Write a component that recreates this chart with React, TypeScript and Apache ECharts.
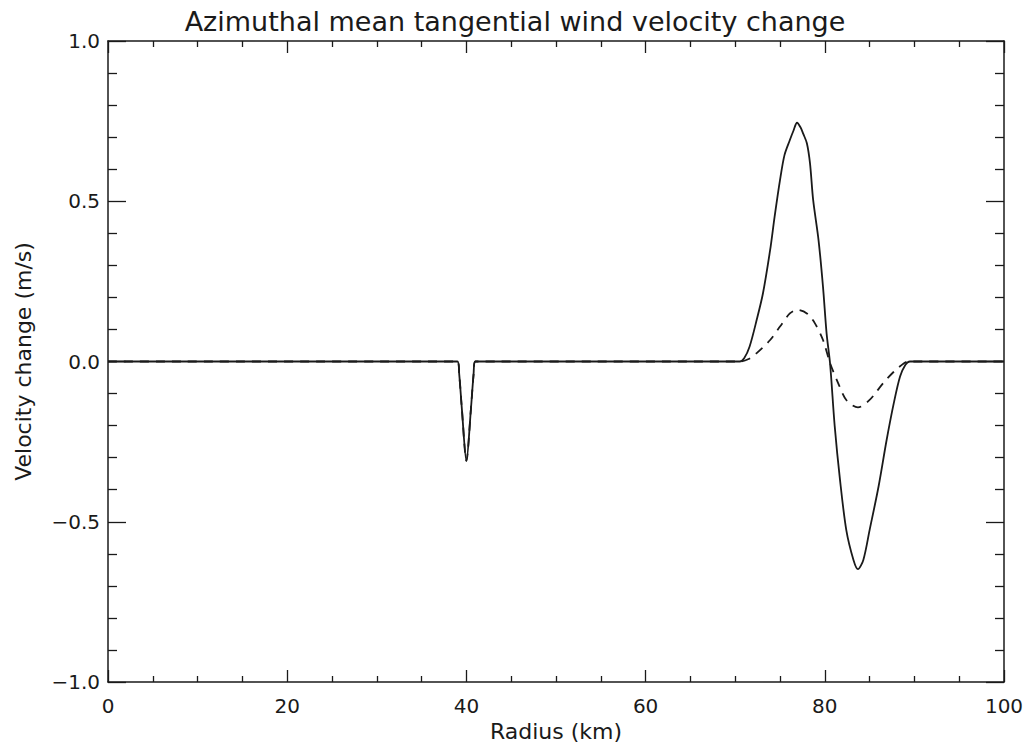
import React, { useEffect, useRef } from "react";
import * as echarts from "echarts";

const titleText = "Azimuthal mean tangential wind velocity change";
const xName = "Radius (km)";
const yName = "Velocity change (m/s)";

const solidRadius = [0, 39.0, 39.2, 39.5, 40.0, 40.5, 40.8, 41.0, 70.5, 71.0, 71.6, 72.4, 73.1, 73.9, 74.4, 75.0, 75.5, 76.1, 76.5, 76.9, 77.3, 77.6, 78.0, 78.35, 78.7, 79.3, 79.8, 80.2, 80.6, 81.1, 81.7, 82.4, 83.2, 83.7, 84.3, 85.0, 86.0, 86.9, 87.7, 88.4, 89.0, 89.5, 100];
const solidValue = [0, 0, -0.04, -0.15, -0.31, -0.15, -0.04, 0, 0, 0.01, 0.046, 0.13, 0.213, 0.348, 0.452, 0.566, 0.644, 0.691, 0.72, 0.745, 0.73, 0.71, 0.681, 0.618, 0.504, 0.379, 0.233, 0.088, -0.01, -0.2, -0.37, -0.526, -0.619, -0.648, -0.619, -0.526, -0.39, -0.245, -0.13, -0.047, -0.01, 0, 0];

const dashRadius = [0, 39.0, 39.2, 39.5, 40.0, 40.5, 40.8, 41.0, 70.5, 71.5, 72.4, 73.9, 75.0, 76.1, 76.9, 78.0, 78.9, 79.8, 80.6, 81.5, 82.4, 83.7, 85.0, 86.5, 87.7, 88.8, 89.3, 100];
const dashValue = [0, 0, -0.04, -0.15, -0.31, -0.15, -0.04, 0, 0, 0.008, 0.026, 0.067, 0.109, 0.15, 0.161, 0.15, 0.119, 0.067, -0.006, -0.068, -0.12, -0.143, -0.12, -0.068, -0.032, -0.006, 0, 0];

const FONT = "DejaVu Sans";
const INK = "#1a1a1a";

export default function App() {
  const ref = useRef<HTMLDivElement>(null);
  useEffect(() => {
    document.body.style.margin = "0";
    const chart = echarts.init(ref.current!, undefined, { renderer: "svg" });
    const fmt = (v: number) => v.toFixed(1).replace("-", "\u2212");
    const axisLine = { show: true, onZero: false, lineStyle: { color: INK, width: 1.5 } };
    const xCommon = {
      type: "value" as const,
      min: 0,
      max: 100,
      interval: 20,
      splitLine: { show: false },
      axisLine,
      axisTick: { show: true, inside: true, length: 12, lineStyle: { color: INK, width: 1.3 } },
      minorTick: { show: true, splitNumber: 4, length: 6, lineStyle: { color: INK, width: 1.3 } },
    };
    const yCommon = {
      type: "value" as const,
      min: -1,
      max: 1,
      interval: 0.5,
      splitLine: { show: false },
      axisLine,
      axisTick: { show: true, inside: true, length: 18, lineStyle: { color: INK, width: 1.3 } },
      minorTick: { show: true, splitNumber: 5, length: 9, lineStyle: { color: INK, width: 1.3 } },
    };
    chart.setOption({
      animation: false,
      backgroundColor: "#ffffff",
      title: {
        text: titleText,
        left: "center",
        top: 3,
        textStyle: { fontFamily: FONT, fontSize: 27, fontWeight: "normal", color: INK },
      },
      grid: { left: 108, right: 26, top: 41, bottom: 69, containLabel: false },
      xAxis: [
        {
          ...xCommon,
          position: "bottom",
          name: xName,
          nameLocation: "middle",
          nameGap: 38,
          nameTextStyle: { fontFamily: FONT, fontSize: 22, color: INK },
          axisLabel: { show: true, margin: 14, fontFamily: FONT, fontSize: 20, color: INK },
        },
        { ...xCommon, position: "top", axisLabel: { show: false } },
      ],
      yAxis: [
        {
          ...yCommon,
          position: "left",
          name: yName,
          nameLocation: "middle",
          nameGap: 74,
          nameTextStyle: { fontFamily: FONT, fontSize: 22, color: INK },
          axisLabel: { show: true, margin: 8, fontFamily: FONT, fontSize: 20, color: INK, formatter: fmt },
        },
        { ...yCommon, position: "right", axisLabel: { show: false } },
      ],
      series: [
        {
          type: "line",
          xAxisIndex: 0,
          yAxisIndex: 0,
          data: dashRadius.map((r, i) => [r, dashValue[i]]),
          showSymbol: false,
          smooth: 0.3,
          lineStyle: { color: INK, width: 1.8, type: [9, 7] },
        },
        {
          type: "line",
          xAxisIndex: 0,
          yAxisIndex: 0,
          data: solidRadius.map((r, i) => [r, solidValue[i]]),
          showSymbol: false,
          smooth: 0.3,
          lineStyle: { color: INK, width: 1.8 },
        },
      ],
    });
    return () => chart.dispose();
  }, []);
  return <div ref={ref} style={{ width: 1030, height: 751 }} />;
}
